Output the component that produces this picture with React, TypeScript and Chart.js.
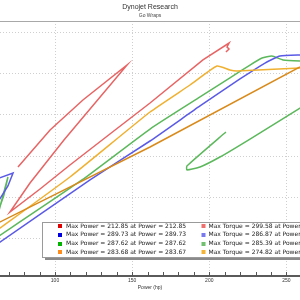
import React, { useEffect, useRef } from "react";
import { Chart, registerables } from "chart.js";

Chart.register(...registerables);

// ---- text ----
const titleText = "Dynojet Research";
const subtitleText = "Go Wraps";
const xAxisTitle = "Power (hp)";

// ---- axes ----
const xMin = 64.35;
const xMax = 258.8;
const yMin = 4.84;
const yMax = 313.6;
const xTickValues = [70, 80, 90, 100, 110, 120, 130, 140, 150, 160, 170, 180, 190, 200, 210, 220, 230, 240, 250];
const xLabelValues = [100, 150, 200, 250];
const yGridValues = [50, 100, 150, 200, 250, 300];

// ---- series (x = power, y = torque-like units) ----
const redX = [76.0, 96.8, 118.1, 146.7, 105.8, 83.8, 70.8, 90.3, 109.7, 135.6, 161.6, 195.9, 212.85, 211.5, 212.8, 210.8];
const redY = [136.8, 181.6, 217.9, 260.3, 169.5, 117.4, 82.3, 110.2, 139.2, 176.8, 214.3, 266.4, 286.9, 282.1, 279.7, 276.0];

const yellowX = [60.0, 109.7, 161.6, 187.5, 205.0, 213.4, 217.9, 258.8, 265.0];
const yellowY = [56.9, 124.7, 203.4, 236.1, 259.1, 254.2, 253.0, 256.7, 257.0];

const orangeX = [59.8, 161.6, 258.8, 265.3];
const orangeY = [66.0, 161.0, 257.9, 263.9];

const greenX = [59.8, 117.5, 161.6, 194.0, 213.4, 226.4, 234.2, 240.6, 247.8, 258.8, 265.3];
const greenY = [48.4, 121.1, 182.8, 221.6, 244.6, 260.3, 268.8, 271.2, 266.4, 265.1, 265.1];

const greenLoopX = [62.4, 69.5, 66.9, 62.4];
const greenLoopY = [75.1, 124.7, 102.9, 78.7];

const greenLowX = [210.8, 185.5, 185.5, 194.0, 206.9, 226.4, 258.8, 265.3];
const greenLowY = [179.2, 138.0, 133.2, 136.8, 148.9, 170.7, 208.2, 215.5];

const blueX = [59.8, 122.7, 161.6, 194.0, 219.9, 236.1, 245.8, 258.8, 265.3];
const blueY = [40.0, 121.1, 168.3, 210.7, 243.4, 262.7, 271.2, 272.4, 272.4];

const blueLoopX = [60.46, 72.8, 69.5, 60.46];
const blueLoopY = [121.1, 129.5, 113.8, 87.2];

// ---- legend ----
const legendPowerLabels = [
  "Max Power = 212.85 at Power = 212.85",
  "Max Power = 289.73 at Power = 289.73",
  "Max Power = 287.62 at Power = 287.62",
  "Max Power = 283.68 at Power = 283.67",
];
const legendTorqueLabels = [
  "Max Torque = 299.58 at Power =",
  "Max Torque = 286.87 at Power =",
  "Max Torque = 285.39 at Power =",
  "Max Torque = 274.82 at Power =",
];
const legendPowerColors = ["#e00000", "#0000e0", "#00b400", "#ff8c1a"];
const legendTorqueColors = ["#f07070", "#7a7af0", "#70c070", "#f5b435"];

const pts = (xs: number[], ys: number[]) => xs.map((x, i) => ({ x, y: ys[i] }));

const seriesDefs = [
  { xs: orangeX, ys: orangeY, color: "#d98a1a", tension: 0 },
  { xs: yellowX, ys: yellowY, color: "#f0b030", tension: 0.15 },
  { xs: blueX, ys: blueY, color: "#5a5ae6", tension: 0.15 },
  { xs: blueLoopX, ys: blueLoopY, color: "#5a5ae6", tension: 0 },
  { xs: greenX, ys: greenY, color: "#5cb85c", tension: 0.15 },
  { xs: greenLoopX, ys: greenLoopY, color: "#5cb85c", tension: 0 },
  { xs: greenLowX, ys: greenLowY, color: "#5cb85c", tension: 0.15 },
  { xs: redX, ys: redY, color: "#e86464", tension: 0 },
];

const decorPlugin = {
  id: "decor",
  beforeDatasetsDraw(chart: any) {
    const { ctx, chartArea } = chart;
    const xs = chart.scales.x;
    ctx.save();
    ctx.strokeStyle = "#a8a8a8";
    ctx.lineWidth = 1;
    ctx.beginPath();
    ctx.moveTo(chartArea.left, chartArea.top + 0.5);
    ctx.lineTo(chartArea.right, chartArea.top + 0.5);
    ctx.stroke();
    ctx.strokeStyle = "#555";
    ctx.beginPath();
    for (const v of xTickValues) {
      const px = Math.round(xs.getPixelForValue(v)) + 0.5;
      ctx.moveTo(px, chartArea.bottom - 4);
      ctx.lineTo(px, chartArea.bottom);
    }
    ctx.stroke();
    ctx.restore();
  },
  afterDraw(chart: any) {
    const { ctx } = chart;
    const bx = 42;
    const by = 222;
    const bw = 300;
    const bh = 35;
    ctx.save();
    ctx.fillStyle = "#8a8a8a";
    ctx.fillRect(bx + 3, by + 3, bw, bh);
    ctx.fillStyle = "#ffffff";
    ctx.fillRect(bx, by, bw, bh);
    ctx.strokeStyle = "#9a9a9a";
    ctx.lineWidth = 1;
    ctx.strokeRect(bx + 0.5, by + 0.5, bw, bh);
    ctx.font = '6px "DejaVu Sans"';
    ctx.textBaseline = "middle";
    ctx.textAlign = "left";
    for (let i = 0; i < legendPowerLabels.length; i++) {
      const cy = by + 4 + i * 8.8;
      ctx.fillStyle = legendPowerColors[i];
      ctx.fillRect(58, Math.round(cy - 2), 4, 4);
      ctx.fillStyle = "#222";
      ctx.fillText(legendPowerLabels[i], 66, cy);
      ctx.fillStyle = legendTorqueColors[i];
      ctx.fillRect(201.5, Math.round(cy - 2), 4, 4);
      ctx.fillStyle = "#222";
      ctx.fillText(legendTorqueLabels[i], 208.5, cy);
    }
    ctx.restore();
  },
};

export default function App() {
  const ref = useRef<HTMLCanvasElement>(null);
  useEffect(() => {
    const chart = new Chart(ref.current as HTMLCanvasElement, {
      type: "scatter",
      data: {
        datasets: seriesDefs.map((s) => ({
          data: pts(s.xs, s.ys),
          showLine: true,
          borderColor: s.color,
          backgroundColor: s.color,
          borderWidth: 1.5,
          pointRadius: 0,
          tension: s.tension,
          fill: false,
        })),
      },
      options: {
        responsive: false,
        animation: false,
        devicePixelRatio: 1,
        layout: { padding: 0 },
        plugins: {
          legend: { display: false },
          tooltip: { enabled: false },
          title: {
            display: true,
            text: titleText,
            color: "#333",
            font: { family: '"Liberation Sans", Arial, sans-serif', size: 7, weight: "normal", lineHeight: 1.2 },
            padding: { top: 3, bottom: 0 },
          },
          subtitle: {
            display: true,
            text: subtitleText,
            color: "#444",
            font: { family: '"Liberation Sans", Arial, sans-serif', size: 5, weight: "normal", lineHeight: 1.2 },
            padding: { top: 1, bottom: 2.6 },
          },
        },
        scales: {
          x: {
            type: "linear",
            min: xMin,
            max: xMax,
            afterBuildTicks: (scale: any) => {
              scale.ticks = xTickValues.map((v) => ({ value: v }));
            },
            afterFit: (scale: any) => {
              scale.height = 24;
            },
            ticks: {
              autoSkip: false,
              maxRotation: 0,
              minRotation: 0,
              padding: 2,
              color: "#333",
              font: { family: '"Liberation Sans", Arial, sans-serif', size: 5 },
              callback: (v: any) => (xLabelValues.includes(Number(v)) ? String(v) : ""),
            },
            grid: {
              drawTicks: false,
              color: (c: any) => (c.tick && xLabelValues.includes(c.tick.value) ? "#cfcfcf" : "rgba(0,0,0,0)"),
              lineWidth: 1,
            },
            border: { display: true, color: "#5a5a5a", width: 2, dash: [1, 2] },
            title: {
              display: true,
              text: xAxisTitle,
              color: "#333",
              font: { family: '"Liberation Sans", Arial, sans-serif', size: 5, lineHeight: 1.2 },
              padding: { top: 0, bottom: 9 },
            },
          },
          y: {
            type: "linear",
            min: yMin,
            max: yMax,
            afterBuildTicks: (scale: any) => {
              scale.ticks = yGridValues.map((v) => ({ value: v }));
            },
            afterFit: (scale: any) => {
              scale.width = 0;
            },
            ticks: { display: false },
            grid: { drawTicks: false, color: "#cfcfcf", lineWidth: 1 },
            border: { display: false, dash: [1, 2] },
          },
        },
      },
      plugins: [decorPlugin],
    } as any);
    return () => chart.destroy();
  }, []);
  return (
    <div style={{ position: "fixed", left: 0, top: 0, width: 300, height: 300, background: "#fff" }}>
      <canvas ref={ref} width={300} height={300} style={{ display: "block", width: 300, height: 300 }} />
    </div>
  );
}
